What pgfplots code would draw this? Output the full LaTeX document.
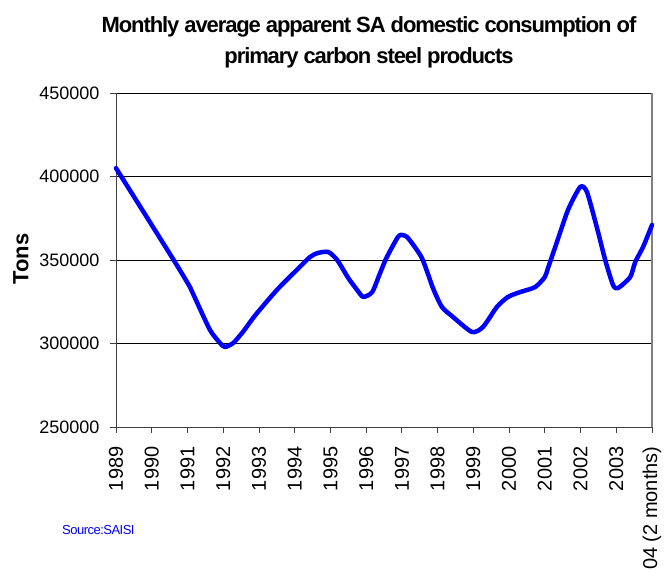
\documentclass[border=0pt]{standalone}
\usepackage{fontspec}
\setmainfont{Liberation Sans}
\newfontfamily\titlefont[LetterSpace=-5]{Liberation Sans}
\newfontfamily\tightfont[LetterSpace=-4]{Liberation Sans}
\usepackage{pgfplots}
\pgfplotsset{compat=1.18}
\definecolor{srcblue}{RGB}{0,0,255}
\definecolor{axisgray}{RGB}{64,64,64}

\begin{document}
\begin{tikzpicture}[x=1pt,y=1pt]
\path[use as bounding box] (0,0) rectangle (666,576);
\begin{axis}[
  at={(116pt,149pt)}, anchor=south west,
  scale only axis,
  width=536pt, height=334pt,
  xmin=0, xmax=15,
  ymin=250000, ymax=450000,
  xtick={0,...,15},
  xticklabels={1989,1990,1991,1992,1993,1994,1995,1996,1997,1998,1999,2000,2001,2002,2003,04 (2 months)},
  x tick label style={rotate=90, anchor=east, font=\fontsize{20}{22}\selectfont},
  xticklabel shift=10pt,
  ytick={250000,300000,350000,400000,450000},
  yticklabels={250000,300000,350000,400000,450000},
  scaled y ticks=false,
  yticklabel style={font=\fontsize{18}{20}\selectfont},
  yticklabel shift=7pt,
  axis x line*=bottom, axis y line*=left,
  axis line style={draw=axisgray, line width=1pt, -},
  tick style={draw=axisgray, line width=0.8pt},
  tick align=outside,
  major tick length=6pt,
  ymajorgrids,
  grid style={draw=black, line width=0.8pt},
  clip=false,
]
\draw[gray, line width=1.2pt] (rel axis cs:1,0) -- (rel axis cs:1,1);
\addplot[srcblue, line width=4.5pt, smooth, tension=0.4, line join=round, line cap=round] coordinates {
  (0.00,405000) (1.57,351500) (2.07,333800) (2.21,327300) (2.63,308100)
  (2.91,300300) (3.05,297900) (3.28,300300) (3.55,306900) (3.90,317000)
  (4.50,332000) (5.00,342800) (5.43,351800) (5.65,354200) (5.94,354800)
  (6.19,350000) (6.50,339200) (6.75,332000) (6.92,327900) (7.17,330800)
  (7.39,342200) (7.58,351800) (7.89,363800) (8.00,365000) (8.17,363200)
  (8.56,351200) (8.87,333200) (9.12,321900) (9.43,315900) (9.96,306900)
  (10.27,309900) (10.66,321900) (10.97,327900) (11.31,330800) (11.73,333800)
  (12.00,339800) (12.09,345200) (12.34,360800) (12.65,380000) (12.99,393700)
  (13.18,390700) (13.49,366800) (13.69,350000) (13.91,335000) (14.05,333200)
  (14.39,339800) (14.53,348800) (14.75,357800) (15.00,371000)
};
\end{axis}
\node[font=\titlefont\bfseries\fontsize{22}{24}\selectfont] at (369,549) {Monthly average apparent SA domestic consumption of};
\node[font=\titlefont\bfseries\fontsize{22}{24}\selectfont] at (369,518) {primary carbon steel products};
\node[font=\bfseries\fontsize{22}{24}\selectfont, rotate=90] at (21,317) {Tons};
\node[font=\tightfont\fontsize{13}{15}\selectfont, text=srcblue, anchor=west, inner sep=0pt] at (62,46) {Source:SAISI};
\end{tikzpicture}
\end{document}
